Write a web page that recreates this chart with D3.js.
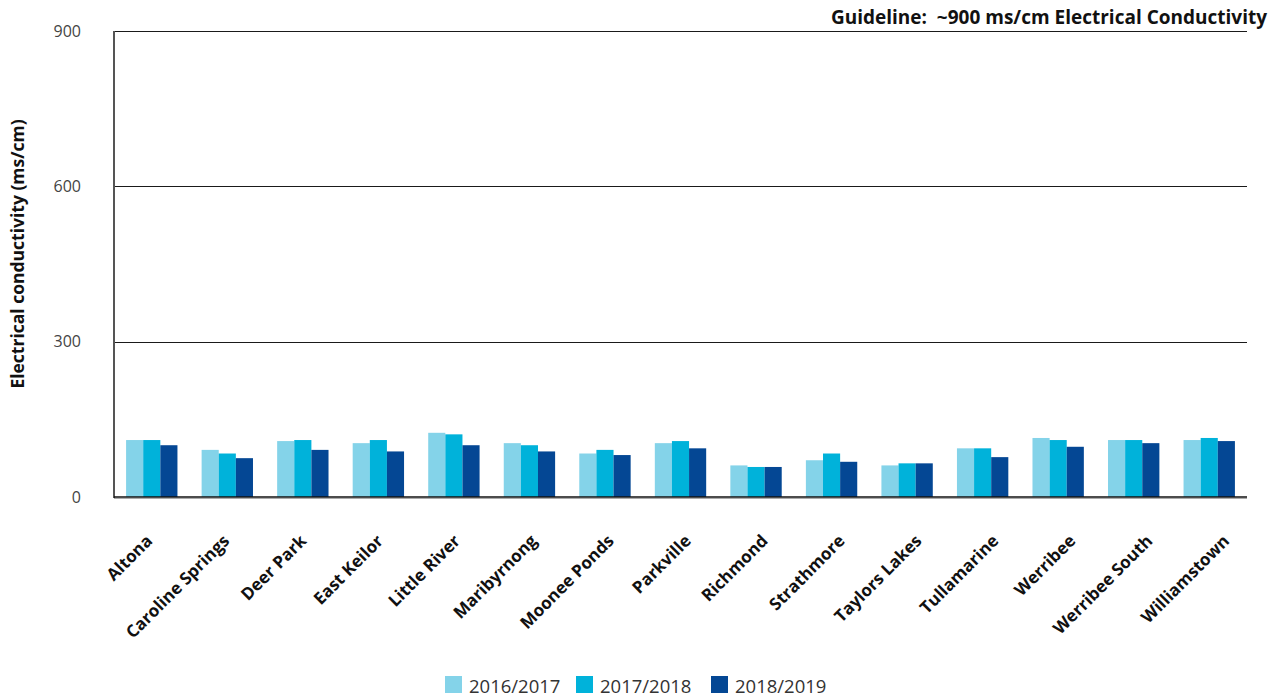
<!DOCTYPE html>
<html>
<head>
<meta charset="utf-8">
<script src="https://cdn.jsdelivr.net/npm/d3@7"></script>
<style>
  html, body { margin: 0; padding: 0; background: #fff; }
  svg { display: block; font-family: "Open Sans", "Noto Sans", sans-serif; }
</style>
</head>
<body>
<svg id="chart" width="1283" height="700"></svg>
<script>
// Electrical conductivity by suburb, three reporting years
const suburbs = ["Altona", "Caroline Springs", "Deer Park", "East Keilor", "Little River",
  "Maribyrnong", "Moonee Ponds", "Parkville", "Richmond", "Strathmore",
  "Taylors Lakes", "Tullamarine", "Werribee", "Werribee South", "Williamstown"];
const seriesNames = ["2016/2017", "2017/2018", "2018/2019"];
const values2016 = [110, 91, 108, 104, 124, 104, 84, 104, 61, 71, 61, 94, 114, 110, 110];
const values2017 = [110, 84, 110, 110, 121, 100, 91, 108, 58, 84, 65, 94, 110, 110, 114];
const values2018 = [100, 75, 91, 88, 100, 88, 81, 94, 58, 68, 65, 77, 97, 104, 108];
const yTicks = [0, 300, 600, 900];
const colors = ["#84d3e9", "#00b2da", "#044794"];

const series = [values2016, values2017, values2018];
const FONT = "'Open Sans', 'Noto Sans', sans-serif";

const svg = d3.select("#chart");
const margin = { left: 114, right: 36, top: 31, bottom: 203 };
const W = 1283, H = 700;

const x = d3.scaleBand().domain(suburbs).range([margin.left, W - margin.right]).paddingInner(0.32).paddingOuter(0.16);
const xi = d3.scaleBand().domain(seriesNames).range([0, x.bandwidth()]);
const y = d3.scaleLinear().domain([0, 900]).range([H - margin.bottom, margin.top]);
// category labels sit on a slightly wider spacing than the bar groups
const xLabel = d3.scalePoint().domain(suburbs).range([153, 1230]);

// horizontal gridlines
svg.append("g").selectAll("line").data(yTicks.filter(d => d > 0)).join("line")
  .attr("x1", margin.left).attr("x2", W - margin.right)
  .attr("y1", d => Math.round(y(d)) + 0.5).attr("y2", d => Math.round(y(d)) + 0.5)
  .attr("stroke", "#1a1a1a").attr("stroke-width", 1);

// bars
const groups = svg.append("g").selectAll("g").data(suburbs).join("g")
  .attr("transform", d => `translate(${x(d)},0)`);
groups.selectAll("rect").data((d, i) => seriesNames.map((s, j) => ({ s, v: series[j][i], j })))
  .join("rect")
  .attr("x", d => xi(d.s))
  .attr("width", xi.bandwidth())
  .attr("y", d => y(d.v))
  .attr("height", d => y(0) - y(d.v))
  .attr("fill", d => colors[d.j]);

// y axis
const yAxis = d3.axisLeft(y).tickValues(yTicks).tickSize(0).tickPadding(33);
const gy = svg.append("g").attr("transform", `translate(${margin.left},0)`).call(yAxis)
  .attr("font-family", FONT);
gy.select(".domain").remove();
gy.selectAll("text").attr("font-size", 16).attr("fill", "#444");
svg.append("line").attr("x1", margin.left).attr("x2", margin.left)
  .attr("y1", y(900)).attr("y2", y(0) + 1).attr("stroke", "#555").attr("stroke-width", 2);

// baseline
svg.append("line").attr("x1", margin.left).attr("x2", W - margin.right)
  .attr("y1", y(0) + 1.5).attr("y2", y(0) + 1.5).attr("stroke", "#aaa").attr("stroke-width", 1);
svg.append("line").attr("x1", margin.left).attr("x2", W - margin.right)
  .attr("y1", y(0)).attr("y2", y(0)).attr("stroke", "#111").attr("stroke-width", 1.5);

// x axis labels, rotated
const xAxis = d3.axisBottom(xLabel).tickSize(0).tickPadding(0);
const gx = svg.append("g").attr("transform", `translate(0,${y(0) + 45})`).call(xAxis)
  .attr("font-family", FONT);
gx.select(".domain").remove();
gx.selectAll("text")
  .attr("font-size", 17).attr("font-weight", "bold").attr("fill", "#111")
  .attr("text-anchor", "end").attr("dy", 0).attr("y", 0)
  .attr("transform", "rotate(-45)");

// y title
svg.append("text")
  .attr("transform", `translate(24,254) rotate(-90)`)
  .attr("text-anchor", "middle").attr("font-size", 17.5).attr("font-weight", "bold").attr("fill", "#111")
  .text("Electrical conductivity (ms/cm)");

// guideline note
svg.append("text").attr("x", 1267).attr("y", 24).attr("text-anchor", "end")
  .attr("font-size", 19).attr("font-weight", "bold").attr("fill", "#111")
  .style("white-space", "pre")
  .text("Guideline:  ~900 ms/cm Electrical Conductivity");

// legend
const legendX = [445, 576, 711];
const lg = svg.append("g").selectAll("g").data(seriesNames).join("g")
  .attr("transform", (d, i) => `translate(${legendX[i]},676)`);
lg.append("rect").attr("width", 17).attr("height", 17).attr("fill", (d, i) => colors[i]);
lg.append("text").attr("x", 24).attr("y", 16.5).attr("font-size", 18.5).attr("fill", "#333").text(d => d);
</script>
</body>
</html>
